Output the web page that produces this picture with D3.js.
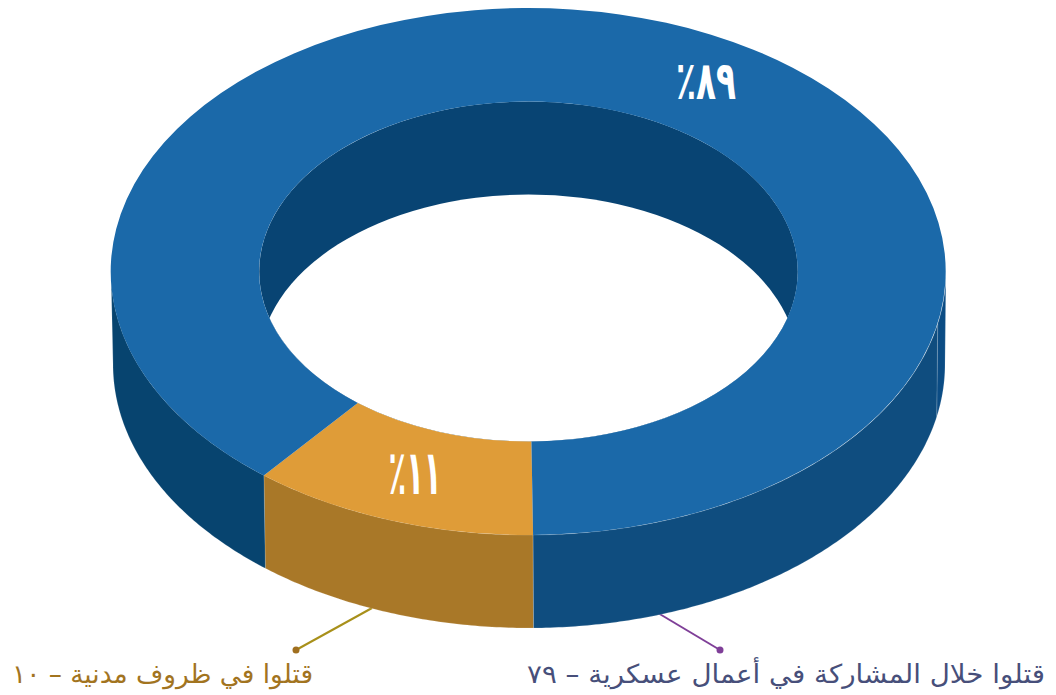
<!DOCTYPE html>
<html lang="ar">
<head>
<meta charset="utf-8">
<script src="https://cdn.jsdelivr.net/npm/d3@7"></script>
<style>
  html, body { margin: 0; padding: 0; background: #fff; }
  svg { display: block; }
</style>
</head>
<body>
<div id="chart"></div>
<script>
const categories = ["قتلوا في ظروف مدنية – ١٠", "قتلوا خلال المشاركة في أعمال عسكرية – ٧٩"];
const shares = [11.1, 88.9];
const shareLabels = ["١١٪", "٨٩٪"];
const topColors = ["#DF9C38", "#1B69A9"];
const labelColors = ["#A2741F", "#474F7A"];

const width = 1056;
const height = 695;
const depth = 93;
const innerRatio = 0.645;

const svg = d3.select("#chart").append("svg")
  .attr("width", width)
  .attr("height", height);

// Unit circle -> squashed ellipse, top face and bottom rim
const xTop = d3.scaleLinear().domain([-1, 1]).range([111, 946]);
const yTop = d3.scaleLinear().domain([-1, 1]).range([8, 535]);
const xBottom = d3.scaleLinear().domain([-1, 1]).range([113, 945]);
const yBottom = yTop.copy().range([8 + depth, 535 + depth]);

const cx = xTop(0), cy = yTop(0);
const rx = xTop(1) - cx, ry = yTop(1) - cy;
const faceTransform = `translate(${cx},${cy}) scale(${rx},${ry})`;

const startAngle = Math.PI - 0.011;
const arcs = d3.pie().sort(null).value((d) => d)
  .startAngle(startAngle).endAngle(startAngle + 2 * Math.PI)(shares);

const ringArc = d3.arc().innerRadius(innerRatio).outerRadius(1);
const holeArc = d3.arc().innerRadius(0).outerRadius(innerRatio)
  .startAngle(0).endAngle(2 * Math.PI);

// Leader lines sit behind the walls
const leaders = [
  { from: [372, 608], to: [296, 650], line: "#A8901A", dot: "#A06F1F" },
  { from: [658, 613], to: [720, 650], line: "#7F3F98", dot: "#7F3F98" }
];
leaders.forEach((d) => {
  svg.append("line")
    .attr("x1", d.from[0]).attr("y1", d.from[1])
    .attr("x2", d.to[0]).attr("y2", d.to[1])
    .attr("stroke", d.line).attr("stroke-width", 2);
  svg.append("circle")
    .attr("cx", d.to[0]).attr("cy", d.to[1]).attr("r", 3.5)
    .attr("fill", d.dot);
});

// Outer wall: only the front half of the ring shows.
// The far right has a thin sliver with its own seam, as in the original render.
const sliverEnd = Math.PI / 2 + 0.2;
const wallPieces = [];
arcs.forEach((a, i) => {
  [0, 2 * Math.PI].forEach((turn) => {
    const lo = Math.max(a.startAngle - turn, Math.PI / 2);
    const hi = Math.min(a.endAngle - turn, 3 * Math.PI / 2);
    if (lo < hi) {
      if (i === 0) {
        wallPieces.push({ lo, hi, fill: "#A97828" });
      } else if (hi <= Math.PI) {
        wallPieces.push({ lo, hi: sliverEnd, fill: "#0B4C84" });
        wallPieces.push({ lo: sliverEnd, hi, fill: "#0F4D7F" });
      } else {
        wallPieces.push({ lo, hi, fill: "#07446F" });
      }
    }
  });
});

const wallPath = ({ lo, hi }) => {
  const angles = d3.range(lo, hi, 0.01).concat(hi);
  const rim = angles.map((t) => [xTop(Math.sin(t)), yTop(-Math.cos(t))]);
  const base = angles.slice().reverse().map((t) => [xBottom(Math.sin(t)), yBottom(-Math.cos(t))]);
  return d3.line()(rim.concat(base)) + "Z";
};

svg.append("g").selectAll("path")
  .data(wallPieces)
  .join("path")
  .attr("d", wallPath)
  .attr("fill", (d) => d.fill)
  .attr("stroke", "#fff")
  .attr("stroke-opacity", 0.25)
  .attr("stroke-width", 0.6);

// Inner wall, with the see-through part of the hole cut out in white
svg.append("clipPath").attr("id", "hole-clip")
  .append("path")
  .attr("d", holeArc())
  .attr("transform", faceTransform);

svg.append("path")
  .attr("d", holeArc())
  .attr("transform", faceTransform)
  .attr("fill", "#084473");

svg.append("g")
  .attr("clip-path", "url(#hole-clip)")
  .append("path")
  .attr("d", holeArc())
  .attr("transform", `translate(${cx},${cy + depth}) scale(${rx},${ry})`)
  .attr("fill", "#fff");

// Top face
svg.append("g")
  .attr("transform", faceTransform)
  .selectAll("path")
  .data(arcs)
  .join("path")
  .attr("d", ringArc)
  .attr("fill", (d, i) => topColors[i]);

// Percent labels, tall and narrow like the original face
const percentStyle = [
  { x: 415, y: 494, size: 62, length: 53 },
  { x: 706, y: 99, size: 53, length: 60 }
];
svg.append("g").selectAll("text")
  .data(shareLabels)
  .join("text")
  .attr("x", (d, i) => percentStyle[i].x)
  .attr("y", (d, i) => percentStyle[i].y)
  .attr("text-anchor", "middle")
  .attr("direction", "rtl")
  .attr("fill", "#fff")
  .attr("font-family", "'DejaVu Sans', sans-serif")
  .attr("font-weight", "bold")
  .attr("font-size", (d, i) => `${percentStyle[i].size}px`)
  .attr("textLength", (d, i) => percentStyle[i].length)
  .attr("lengthAdjust", "spacingAndGlyphs")
  .text((d) => d);

// Category labels
const labelRight = [313, 1045];
const labelLength = [301, 518];
svg.append("g").selectAll("text")
  .data(categories)
  .join("text")
  .attr("x", (d, i) => labelRight[i])
  .attr("y", 683)
  .attr("text-anchor", "start")
  .attr("direction", "rtl")
  .attr("fill", (d, i) => labelColors[i])
  .attr("font-family", "'DejaVu Sans', sans-serif")
  .attr("font-size", "26px")
  .attr("textLength", (d, i) => labelLength[i])
  .attr("lengthAdjust", "spacingAndGlyphs")
  .text((d) => d);
</script>
</body>
</html>
